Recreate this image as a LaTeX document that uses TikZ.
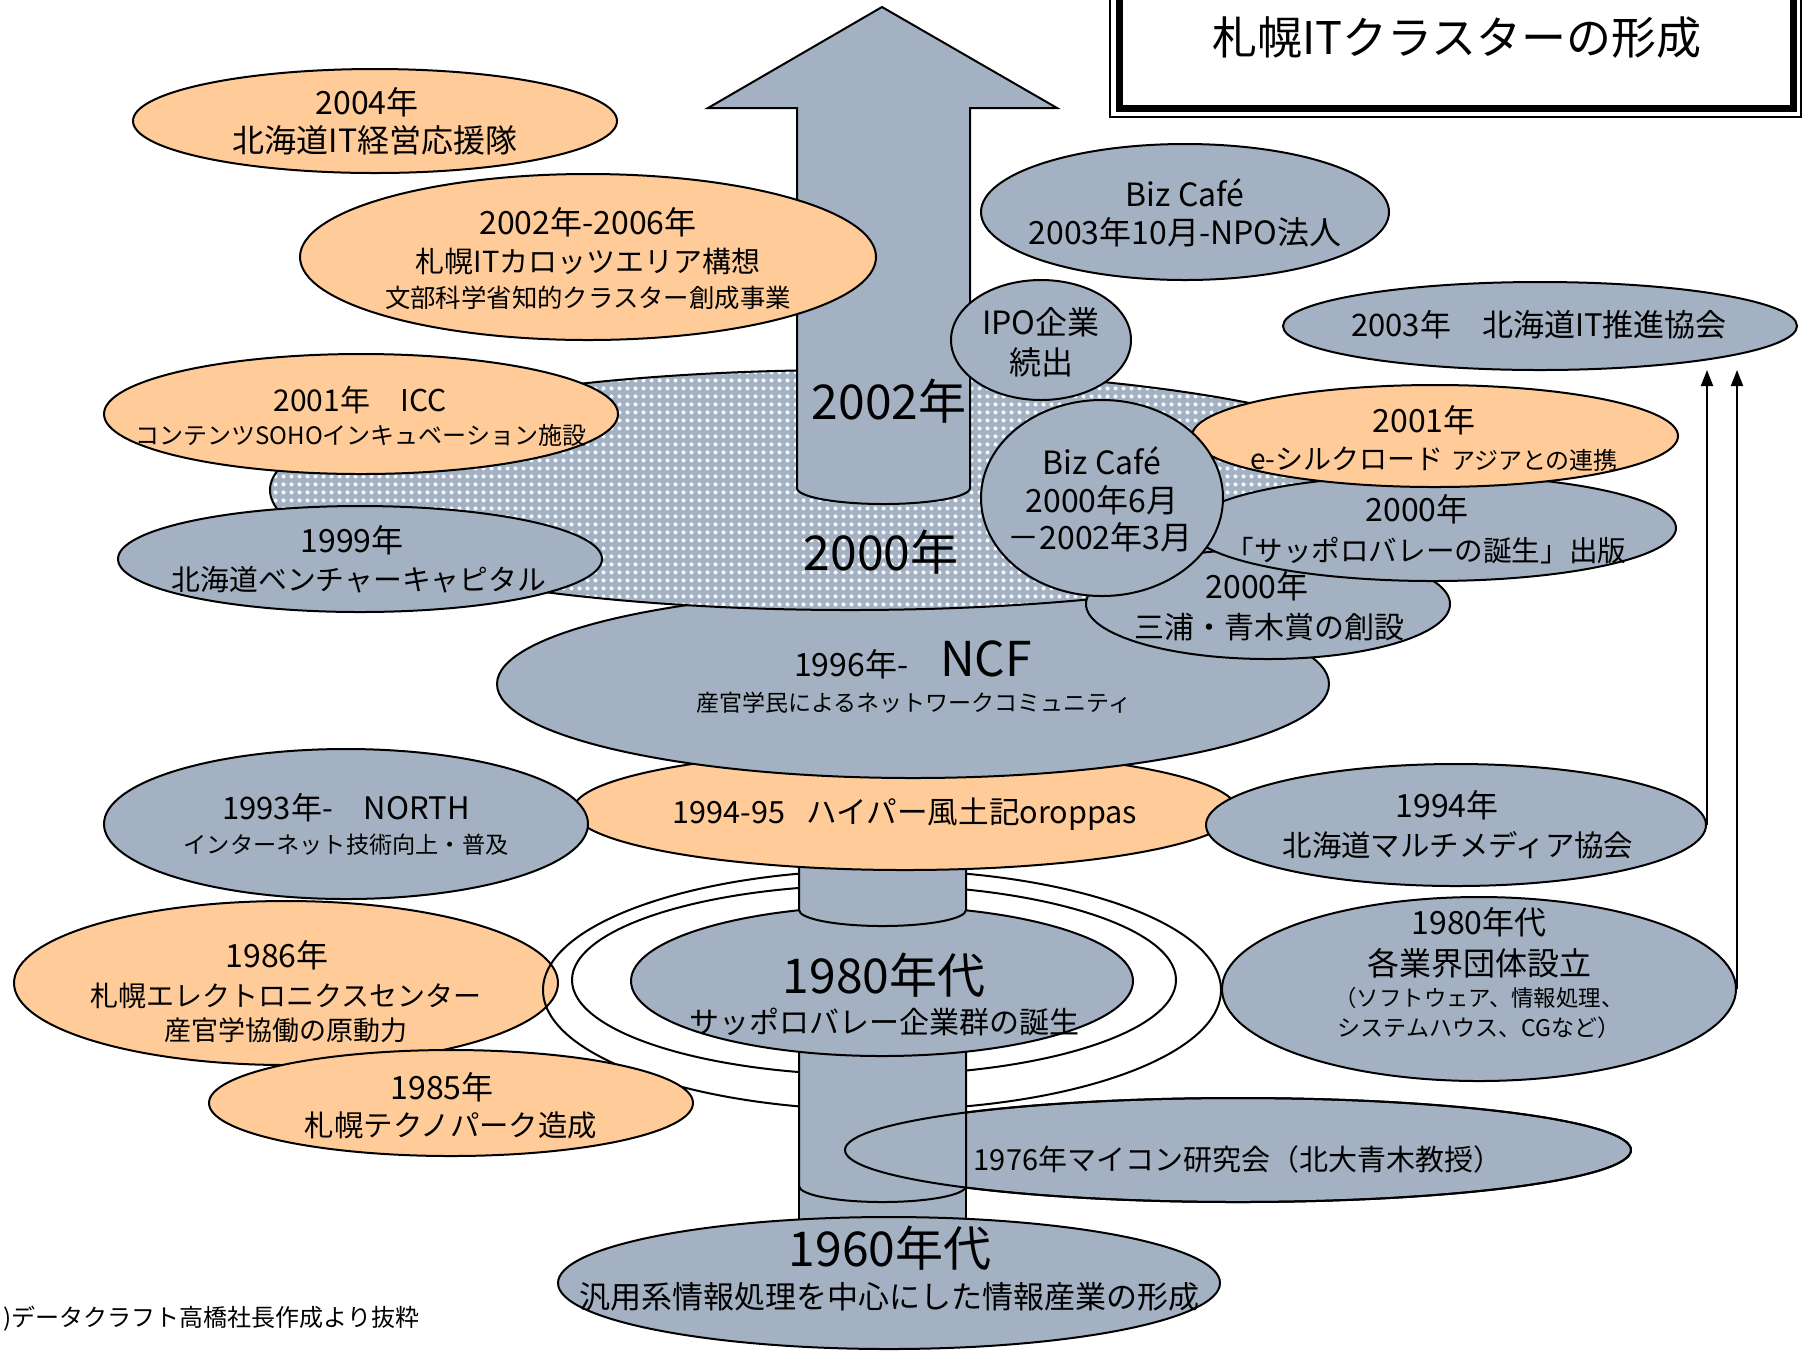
\documentclass[tikz,border=0pt]{standalone}
\usepackage{fontspec}
\setmainfont{Noto Sans CJK JP}
\usetikzlibrary{shapes.geometric,arrows.meta,patterns}
\definecolor{gblue}{HTML}{A3B1C2}
\definecolor{peach}{HTML}{FFCC99}
\definecolor{diskbase}{HTML}{A3B1C2}
\pgfdeclarepatternformonly{bubbles}{\pgfpointorigin}{\pgfpoint{4pt}{4pt}}{\pgfpoint{4pt}{4pt}}{\pgfpathcircle{\pgfpoint{2pt}{2pt}}{1.15pt}\pgfusepath{fill}}
\tikzset{
  ell/.style={ellipse, draw=black, line width=1pt, inner sep=0pt},
  gb/.style={ell, fill=gblue},
  pc/.style={ell, fill=peach},
  pillar/.style={fill=gblue, draw=black, line width=1pt},
  lbl/.style={inner sep=0pt, text=black},
  uparrow/.style={-{Triangle[width=6pt,length=8pt]}, line width=1pt}
}
\newcommand{\myell}[6]{\node[#2, minimum width=#5pt, minimum height=#6pt] (#1) at (#3,#4) {};}
\newcommand{\mytext}[5]{\node[lbl, font=\fontsize{#4}{#4}\selectfont] (#1) at (#2,#3) {#5};}
\begin{document}
\begin{tikzpicture}[x=0.5pt, y=-0.5pt]
\useasboundingbox (0,0) rectangle (1803,1351);
% ---------- lower part ----------
\myell{e1986}{pc}{286}{983}{272}{82}
\myell{ring1}{ell}{882}{990}{339}{120}
\myell{ring2}{ell}{874}{980}{302}{95}
\myell{e1985}{pc}{451}{1103}{242}{53}
\myell{e1976}{gb}{1238}{1150}{393}{52}
\filldraw[pillar] (799,1180) rectangle (966,1290);
\filldraw[pillar] (799,1040) -- (799,1186) arc[start angle=180, end angle=360, x radius=41.75pt, y radius=8pt] -- (966,1040) -- cycle;
\node[ell, minimum width=393pt, minimum height=52pt] (e1976line) at (1238,1150) {};
\myell{e1980}{gb}{882}{981}{251}{75}
\myell{e1960}{gb}{889}{1283}{331}{66}
\filldraw[pillar] (799,790) -- (799,910) arc[start angle=180, end angle=360, x radius=41.75pt, y radius=8pt] -- (966,790) -- cycle;
\myell{hyper}{pc}{905}{810}{332}{60}
\myell{e1993}{gb}{346}{824}{242}{75}
\myell{e1994}{gb}{1456}{825}{250}{61}
\myell{gyokai}{gb}{1479}{989}{257}{92}
\myell{ncf}{gb}{913}{684}{416}{94}
% ---------- disk and arrow ----------
\node[ell, preaction={fill=diskbase}, pattern=bubbles, pattern color=white!92!gblue, minimum width=580pt, minimum height=120pt] (disk) at (850,490) {};
\filldraw[pillar] (797,488) -- (797,108) -- (708,108) -- (882,7) -- (1057,108) -- (970,108) -- (970,488) arc[start angle=0, end angle=-180, x radius=43.25pt, y radius=8pt] -- cycle;
% ---------- upper ellipses ----------
\myell{miura}{gb}{1268}{604}{182}{55}
\myell{svbook}{gb}{1433}{528}{243}{53}
\myell{esilk}{pc}{1435}{436}{243}{51}
\myell{biz2000}{gb}{1102}{498}{121}{98}
\myell{ipo}{gb}{1041}{340}{90}{60}
\myell{biz2003}{gb}{1185}{212}{204}{68}
\myell{it2003}{gb}{1540}{326}{257}{44}
\myell{icc}{pc}{361}{414}{257}{60}
\myell{e1999}{gb}{360}{559}{242}{53}
\myell{karo}{pc}{588}{257}{288}{83}
\myell{e2004}{pc}{375}{121}{242}{52}
% ---------- title frame ----------
\draw[line width=0.75pt] (1110,-20) -- (1110,117) -- (1801,117) -- (1801,-20);
\draw[line width=3.5pt] (1119.5,-20) -- (1119.5,108.5) -- (1793,108.5) -- (1793,-20);
\mytext{title}{1457}{38}{22.5}{札幌ITクラスターの形成}
% ---------- arrows to 2003 ----------
\coordinate (tipA) at (1706,370);
\draw[uparrow] (e1994.east) -- (e1994.east |- tipA);
\draw[uparrow] (gyokai.east) -- (gyokai.east |- tipA);
% ---------- texts ----------
\mytext{t2004a}{367}{102}{16}{2004年}
\mytext{t2004b}{375}{140}{16}{北海道IT経営応援隊}
\mytext{tkaroa}{588}{222}{16}{2002年-2006年}
\mytext{tkarob}{588}{261}{14.5}{札幌ITカロッツエリア構想}
\mytext{tkaroc}{588}{298}{12.7}{文部科学省知的クラスター創成事業}
\mytext{ticca}{360}{400}{15}{2001年　ICC}
\mytext{ticcb}{361}{435}{12}{コンテンツSOHOインキュベーション施設}
\mytext{t1999a}{352}{540}{16}{1999年}
\mytext{t1999b}{359}{580}{14.4}{北海道ベンチャーキャピタル}
\mytext{t1993a}{346}{808}{15.5}{1993年-　NORTH}
\mytext{t1993b}{346}{845}{11.6}{インターネット技術向上・普及}
\mytext{t1986a}{277}{955}{16}{1986年}
\mytext{t1986b}{286}{996}{14}{札幌エレクトロニクスセンター}
\mytext{t1986c}{286}{1030}{13.5}{産官学協働の原動力}
\mytext{t1985a}{442}{1087}{16}{1985年}
\mytext{t1985b}{451}{1125}{14.7}{札幌テクノパーク造成}
\mytext{tipoa}{1041}{322}{16}{IPO企業}
\mytext{tipob}{1041}{362}{16}{続出}
\mytext{tbiza}{1185}{193}{16}{Biz Café}
\mytext{tbizb}{1185}{232}{16}{2003年10月-NPO法人}
\mytext{tit}{1539}{325}{15.5}{2003年　北海道IT推進協会}
\mytext{tbcA}{1102}{461}{16}{Biz Café}
\mytext{tbcB}{1102}{500}{16}{2000年6月}
\mytext{tbcC}{1100}{537}{16}{－2002年3月}
\mytext{tesa}{1424}{420}{16}{2001年}
\node[lbl] (tesb) at (1434,459) {{\fontsize{14}{14}\selectfont e-シルクロード}\hspace{4pt}{\fontsize{12}{12}\selectfont アジアとの連携}};
\mytext{tsva}{1417}{509}{16}{2000年}
\mytext{tsvb}{1426}{551}{14.3}{「サッポロバレーの誕生」出版}
\mytext{tmia}{1257}{586}{16}{2000年}
\mytext{tmib}{1269}{627}{15}{三浦・青木賞の創設}
\node[lbl, anchor=base] (tncfa) at (913,676) {{\fontsize{16}{16}\selectfont 1996年-}\hspace{16pt}{\fontsize{24}{24}\selectfont NCF}};
\mytext{tncfb}{914}{703}{11.5}{産官学民によるネットワークコミュニティ}
\mytext{thyper}{905}{814}{15.3}{1994-95\hspace{0.7em}ハイパー風土記oroppas}
\mytext{t1994a}{1447}{805}{16}{1994年}
\mytext{t1994b}{1458}{845}{14.7}{北海道マルチメディア協会}
\mytext{tgya}{1479}{922}{16}{1980年代}
\mytext{tgyb}{1479}{963}{16}{各業界団体設立}
\mytext{tgyc}{1479}{998}{11.2}{（ソフトウェア、情報処理、}
\mytext{tgyd}{1479}{1028}{11.5}{システムハウス、CGなど）}
\mytext{t1980a}{884}{975}{24}{1980年代}
\mytext{t1980b}{884}{1022}{15}{サッポロバレー企業群の誕生}
\mytext{t1976}{1238}{1159}{14.5}{1976年マイコン研究会（北大青木教授）}
\mytext{t1960a}{890}{1248}{24}{1960年代}
\mytext{t1960b}{889}{1297}{15.5}{汎用系情報処理を中心にした情報産業の形成}
\mytext{t2002}{889}{401}{24}{2002年}
\mytext{t2000}{881}{552}{24}{2000年}
\node[lbl, anchor=west, font=\fontsize{12}{12}\selectfont] (src) at (3,1319) {)データクラフト高橋社長作成より抜粋};
\end{tikzpicture}
\end{document}
